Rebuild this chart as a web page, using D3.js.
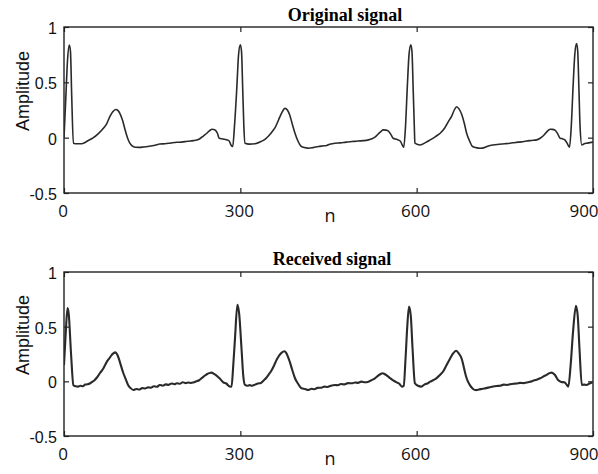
<!DOCTYPE html>
<html>
<head>
<meta charset="utf-8">
<script src="https://cdn.jsdelivr.net/npm/d3@7"></script>
<style>
  body { margin: 0; background: #fff; }
  svg { display: block; }
</style>
</head>
<body>
<div id="chart"></div>
<script>
// tick values
var xTicks = [0, 300, 600, 900];
var yTicks = [-0.5, 0, 0.5, 1];

// original signal
var nOrig = [0, 3, 6, 9, 11, 13, 16, 22, 28, 33, 40, 50, 58, 67, 73, 78, 83, 88, 92, 95,
  100, 104, 108, 112, 116, 121, 128, 135, 145, 155, 163, 172, 182, 192, 200, 210, 220, 226, 231, 237,
  243, 248, 252, 257, 261, 264, 270, 277, 281, 284, 287, 290, 294, 297, 300, 302, 304, 306, 308, 315,
  325, 335, 343, 348, 355, 360, 365, 370, 376, 380, 384, 388, 393, 398, 404, 410, 416, 424, 433, 440,
  447, 452, 461, 470, 480, 490, 500, 510, 518, 524, 529, 535, 540, 543, 548, 552, 556, 560, 566, 572,
  575, 578, 581, 584, 587, 590, 592, 594, 596, 597, 606, 615, 623, 632, 640, 648, 654, 660, 664, 668,
  672, 677, 681, 685, 690, 695, 701, 708, 715, 722, 730, 740, 750, 759, 768, 778, 787, 796, 804, 810,
  815, 821, 827, 831, 835, 840, 844, 848, 852, 856, 860, 863, 866, 869, 872, 874, 876, 878, 881, 885,
  889, 895, 900];
var ampOrig = [0.0, 0.35, 0.7, 0.837, 0.78, 0.4, -0.05, -0.055, -0.055, -0.05, -0.03, 0.0, 0.035, 0.085, 0.13, 0.19, 0.235, 0.255, 0.245, 0.22,
  0.15, 0.07, 0.0, -0.05, -0.075, -0.087, -0.088, -0.085, -0.078, -0.068, -0.057, -0.055, -0.048, -0.042, -0.04, -0.032, -0.027, -0.022, -0.01, 0.015,
  0.04, 0.065, 0.076, 0.07, 0.04, -0.005, -0.012, -0.02, -0.03, -0.066, -0.08, 0.1, 0.45, 0.75, 0.84, 0.78, 0.45, 0.1, -0.05, -0.058,
  -0.055, -0.035, -0.01, 0.015, 0.06, 0.1, 0.16, 0.22, 0.265, 0.25, 0.205, 0.13, 0.04, -0.03, -0.08, -0.09, -0.096, -0.09, -0.08, -0.075,
  -0.07, -0.06, -0.05, -0.047, -0.04, -0.035, -0.03, -0.027, -0.02, -0.01, 0.004, 0.035, 0.06, 0.07, 0.068, 0.06, 0.03, -0.005, -0.015, -0.03,
  -0.06, -0.087, 0.1, 0.45, 0.75, 0.84, 0.78, 0.45, 0.1, -0.05, -0.066, -0.045, -0.02, 0.01, 0.04, 0.09, 0.145, 0.2, 0.25, 0.28,
  0.26, 0.205, 0.13, 0.04, -0.03, -0.08, -0.09, -0.095, -0.09, -0.075, -0.066, -0.06, -0.055, -0.05, -0.043, -0.038, -0.03, -0.025, -0.02, -0.005,
  0.015, 0.05, 0.076, 0.075, 0.07, 0.035, -0.005, -0.01, -0.02, -0.05, -0.087, 0.1, 0.45, 0.75, 0.85, 0.78, 0.45, 0.1, -0.066, -0.055,
  -0.05, -0.045, -0.04];

// received signal (small wiggles are the visible noise)
var nRecv = [0, 3, 6, 8, 12, 16, 20, 24, 28, 32, 36, 40, 44, 48, 52, 56, 61, 66, 70, 73,
  77, 81, 84, 87, 90, 92, 96, 101, 105, 109, 113, 118, 123, 128, 133, 138, 143, 148, 153, 158,
  163, 168, 173, 178, 183, 188, 192, 197, 202, 207, 212, 216, 220, 225, 230, 234, 238, 243, 247, 251,
  255, 260, 265, 271, 276, 282, 285, 288, 291, 295, 298, 302, 305, 308, 312, 316, 320, 325, 330, 335,
  340, 344, 348, 352, 357, 362, 366, 370, 375, 378, 384, 388, 393, 398, 404, 410, 416, 421, 426, 431,
  438, 443, 448, 454, 461, 466, 471, 477, 483, 490, 495, 500, 506, 512, 518, 523, 529, 534, 538, 542,
  546, 550, 555, 560, 566, 570, 575, 578, 581, 584, 587, 590, 593, 597, 602, 608, 613, 618, 623, 628,
  634, 640, 645, 650, 654, 658, 662, 667, 671, 677, 681, 685, 690, 696, 701, 706, 712, 718, 724, 730,
  736, 742, 748, 754, 759, 765, 770, 776, 782, 787, 793, 798, 804, 810, 816, 822, 826, 830, 835, 841,
  846, 852, 855, 858, 862, 866, 871, 874, 877, 881, 885, 889, 894, 899];
var ampRecv = [0.15, 0.45, 0.67, 0.62, 0.25, -0.035, -0.045, -0.048, -0.04, -0.045, -0.03, -0.027, -0.02, -0.005, 0.01, 0.035, 0.074, 0.11, 0.15, 0.18,
  0.21, 0.24, 0.255, 0.265, 0.25, 0.227, 0.16, 0.074, 0.02, -0.033, -0.06, -0.079, -0.07, -0.075, -0.062, -0.065, -0.055, -0.058, -0.045, -0.05,
  -0.033, -0.04, -0.028, -0.032, -0.02, -0.026, -0.018, -0.022, -0.008, -0.016, -0.01, -0.015, -0.01, 0.0, 0.01, 0.028, 0.045, 0.065, 0.075, 0.08,
  0.068, 0.05, 0.025, -0.01, -0.02, -0.048, -0.05, 0.15, 0.4, 0.7, 0.62, 0.3, 0.05, -0.033, -0.04, -0.035, -0.04, -0.03, -0.02, -0.015,
  0.01, 0.03, 0.06, 0.09, 0.14, 0.2, 0.235, 0.26, 0.275, 0.26, 0.18, 0.11, 0.028, -0.02, -0.063, -0.07, -0.079, -0.068, -0.072, -0.06,
  -0.058, -0.048, -0.052, -0.04, -0.033, -0.036, -0.024, -0.028, -0.016, -0.018, -0.01, -0.014, -0.003, -0.008, -0.003, 0.01, 0.028, 0.05, 0.065, 0.074,
  0.065, 0.05, 0.028, 0.008, -0.01, -0.02, -0.048, -0.04, 0.2, 0.5, 0.685, 0.6, 0.3, -0.018, -0.04, -0.048, -0.03, -0.02, -0.003, 0.01,
  0.03, 0.06, 0.09, 0.14, 0.18, 0.22, 0.255, 0.28, 0.26, 0.2, 0.11, 0.028, -0.03, -0.07, -0.08, -0.075, -0.068, -0.062, -0.055, -0.048,
  -0.043, -0.04, -0.03, -0.033, -0.027, -0.022, -0.02, -0.014, -0.016, -0.01, -0.004, 0.005, 0.015, 0.028, 0.045, 0.062, 0.075, 0.08, 0.06, 0.01,
  -0.005, -0.01, -0.03, -0.048, 0.15, 0.45, 0.69, 0.6, 0.3, -0.033, -0.03, -0.033, -0.02, -0.01];

var width = 598, height = 474;

var svg = d3.select("#chart").append("svg")
  .attr("width", width)
  .attr("height", height);

// one panel: frame, inside ticks, labels, line
function drawPanel(top, bottom, title, titleY, titleX, nVals, ampVals, lineWidth, idx) {
  var left = 64, right = 593;

  var x = d3.scaleLinear().domain([0, 900]).range([left, right]);
  var y = d3.scaleLinear().domain([-0.5, 1]).range([bottom, top]);

  var g = svg.append("g");

  g.append("clipPath").attr("id", "clip" + idx)
    .append("rect")
    .attr("x", left).attr("y", top)
    .attr("width", right - left).attr("height", bottom - top);

  // inside ticks on all four sides, like a boxed matlab plot
  g.append("g").attr("transform", `translate(0,${bottom})`)
    .call(d3.axisTop(x).tickValues(xTicks).tickSize(5).tickFormat(""));
  g.append("g").attr("transform", `translate(0,${top})`)
    .call(d3.axisBottom(x).tickValues(xTicks).tickSize(5).tickFormat(""));
  g.append("g").attr("transform", `translate(${left},0)`)
    .call(d3.axisRight(y).tickValues(yTicks).tickSize(5).tickFormat(""));
  g.append("g").attr("transform", `translate(${right},0)`)
    .call(d3.axisLeft(y).tickValues(yTicks).tickSize(5).tickFormat(""));
  g.selectAll(".domain").remove();
  g.selectAll(".tick line").attr("stroke", "#222").attr("stroke-width", 1.2);

  g.append("rect")
    .attr("x", left).attr("y", top)
    .attr("width", right - left).attr("height", bottom - top)
    .attr("fill", "none")
    .attr("stroke", "#222")
    .attr("stroke-width", 1.4);

  // y tick labels
  g.selectAll(".ylab").data(yTicks).enter().append("text")
    .attr("x", 57)
    .attr("y", d => y(d) + 7)
    .attr("text-anchor", "end")
    .attr("font-family", "Liberation Sans, Arial, sans-serif")
    .attr("font-size", 16)
    .attr("fill", "#111")
    .text(d => d);

  // x tick labels
  g.selectAll(".xlab").data(xTicks).enter().append("text")
    .attr("x", d => d == 900 ? x(d) - 9 : x(d) - 1)
    .attr("y", bottom + 24)
    .attr("text-anchor", "middle")
    .attr("font-family", "Open Sans, sans-serif")
    .attr("font-size", 17)
    .attr("fill", "#111")
    .text(d => d);

  g.append("text")
    .attr("x", 330)
    .attr("y", bottom + 29)
    .attr("text-anchor", "middle")
    .attr("font-family", "Open Sans, sans-serif")
    .attr("font-size", 18)
    .attr("fill", "#111")
    .text("n");

  g.append("text")
    .attr("transform", `translate(29,${(top + bottom) / 2 - 19}) rotate(-90)`)
    .attr("text-anchor", "middle")
    .attr("font-family", "Liberation Sans, Arial, sans-serif")
    .attr("font-size", 18)
    .attr("fill", "#111")
    .text("Amplitude");

  g.append("text")
    .attr("x", titleX)
    .attr("y", titleY)
    .attr("text-anchor", "middle")
    .attr("font-family", "Liberation Serif, Times New Roman, serif")
    .attr("font-weight", "bold")
    .attr("font-size", 18)
    .attr("fill", "#000")
    .text(title);

  var pts = nVals.map((n, i) => [n, ampVals[i]]);
  var line = d3.line()
    .x(d => x(d[0]))
    .y(d => y(d[1]))
    .curve(d3.curveMonotoneX);

  g.append("path")
    .datum(pts)
    .attr("clip-path", `url(#clip${idx})`)
    .attr("fill", "none")
    .attr("stroke", "#2a2a2a")
    .attr("stroke-width", lineWidth)
    .attr("stroke-linejoin", "round")
    .attr("d", line);
}

drawPanel(27, 193, "Original signal", 21, 345, nOrig, ampOrig, 1.6, 1);
drawPanel(272, 436, "Received signal", 265, 332, nRecv, ampRecv, 2.1, 2);
</script>
</body>
</html>
